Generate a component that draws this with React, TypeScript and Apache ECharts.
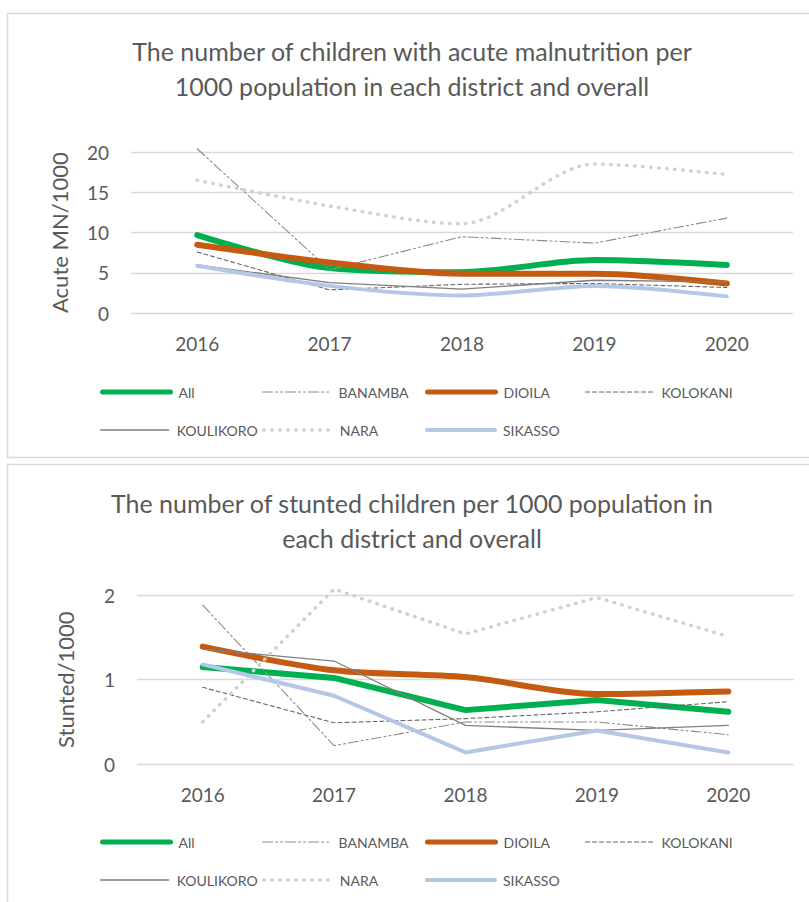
import React, { useEffect, useRef } from 'react';
import * as echarts from 'echarts';

const years = ['2016', '2017', '2018', '2019', '2020'];
const seriesNames = ['All', 'BANAMBA', 'DIOILA', 'KOLOKANI', 'KOULIKORO', 'NARA', 'SIKASSO'];

// Acute malnutrition per 1000
const acuteAll = [9.7, 5.6, 5.1, 6.6, 6.0];
const acuteBanamba = [20.4, 5.4, 9.5, 8.7, 11.8];
const acuteDioila = [8.5, 6.3, 4.9, 4.9, 3.7];
const acuteKolokani = [7.6, 2.9, 3.6, 3.7, 3.2];
const acuteKoulikoro = [6.0, 3.8, 3.0, 4.1, 3.9];
const acuteNara = [16.5, 13.3, 11.1, 18.5, 17.2];
const acuteSikasso = [5.9, 3.4, 2.2, 3.4, 2.1];

// Stunted per 1000
const stuntAll = [1.15, 1.02, 0.64, 0.76, 0.62];
const stuntBanamba = [1.88, 0.22, 0.5, 0.5, 0.35];
const stuntDioila = [1.39, 1.11, 1.03, 0.83, 0.86];
const stuntKolokani = [0.91, 0.49, 0.54, 0.62, 0.74];
const stuntKoulikoro = [1.36, 1.22, 0.46, 0.4, 0.46];
const stuntNara = [0.5, 2.07, 1.54, 1.97, 1.51];
const stuntSikasso = [1.18, 0.81, 0.14, 0.4, 0.14];

const acuteTicks = { min: 0, max: 20, interval: 5 };
const stuntTicks = { min: 0, max: 2, interval: 1 };

const title1 = ['The number of children with acute malnutrition per', '1000 population in each district and overall'];
const title2 = ['The number of stunted children per 1000 population in', 'each district and overall'];
const yName1 = 'Acute MN/1000';
const yName2 = 'Stunted/1000';

const FONT = 'Lato';
const TXT = '#595959';
const GRIDC = '#d9d9d9';

const styles: Record<string, any> = {
  All: { color: '#00B050', width: 6, type: 'solid', lw: 5 },
  BANAMBA: { color: '#8c8c8c', width: 1.1, type: [10, 3, 2, 3, 2, 3], lw: 1.2 },
  DIOILA: { color: '#C55A11', width: 6, type: 'solid', lw: 5 },
  KOLOKANI: { color: '#666666', width: 1.1, type: [4, 3], lw: 1.2 },
  KOULIKORO: { color: '#7f7f7f', width: 1.3, type: 'solid', lw: 1.3 },
  NARA: { color: '#d0d0d0', width: 3.5, type: [0.5, 7.5], lw: 3.5 },
  SIKASSO: { color: '#B4C7E7', width: 4, type: 'solid', lw: 4 },
};

export default function App() {
  const ref = useRef<HTMLDivElement>(null);
  useEffect(() => {
    const chart = echarts.init(ref.current!, null, { renderer: 'svg' });
    const acute = [acuteAll, acuteBanamba, acuteDioila, acuteKolokani, acuteKoulikoro, acuteNara, acuteSikasso];
    const stunt = [stuntAll, stuntBanamba, stuntDioila, stuntKolokani, stuntKoulikoro, stuntNara, stuntSikasso];

    const mkSeries = (name: string, data: number[], idx: number, smooth: number | boolean) => {
      const s = styles[name];
      return {
        name,
        type: 'line',
        xAxisIndex: idx,
        yAxisIndex: idx,
        data,
        symbol: 'none',
        showSymbol: false,
        smooth,
        clip: false,
        lineStyle: { color: s.color, width: s.width, type: s.type, cap: 'round', join: 'round' },
        itemStyle: { color: s.color },
      };
    };
    const stuntSmooth: Record<string, number | boolean> = { DIOILA: 0.3 };
    const topSmooth: Record<string, number | boolean> = { BANAMBA: false, KOLOKANI: false, KOULIKORO: false };
    const series: any[] = [];
    seriesNames.forEach((n, i) => series.push(mkSeries(n, acute[i], 0, topSmooth[n] ?? 0.3)));
    seriesNames.forEach((n, i) => series.push(mkSeries(n, stunt[i], 1, stuntSmooth[n] ?? false)));

    const colX = [100, 262, 425, 585];
    const legends: any[] = [];
    [[393, 431], [843, 881]].forEach((rows) => {
      seriesNames.forEach((n, i) => {
        const s = styles[n];
        const row = Math.floor(i / 4);
        const col = i % 4;
        legends.push({
          data: [n],
          left: colX[col],
          top: rows[row] - 8,
          padding: 0,
          itemWidth: 68,
          itemHeight: 16,
          selectedMode: false,
          itemStyle: { opacity: 0, color: 'transparent', borderWidth: 0 },
          lineStyle: { color: s.color, width: s.lw, type: s.type, cap: 'round', opacity: 1 },
          textStyle: { color: TXT, fontFamily: FONT, fontSize: 14, padding: [0, 0, 0, 3] },
        });
      });
    });

    const axisCommon = (gi: number, ticks: any, name: string) => ({
      type: 'value',
      gridIndex: gi,
      ...ticks,
      name,
      nameLocation: 'middle',
      nameRotate: 90,
      nameGap: 61,
      nameTextStyle: { color: TXT, fontFamily: FONT, fontSize: 22 },
      axisLine: { show: false },
      axisTick: { show: false },
      axisLabel: { color: TXT, fontFamily: FONT, fontSize: 19, margin: 22 },
      splitLine: { lineStyle: { color: GRIDC, width: 1.3 } },
    });
    const xCommon = (gi: number) => ({
      type: 'category',
      gridIndex: gi,
      data: years,
      boundaryGap: true,
      axisLine: { show: false },
      axisTick: { show: false },
      axisLabel: { color: TXT, fontFamily: FONT, fontSize: 19, margin: 21 },
    });

    const titleText = (lines: string[], y0: number) =>
      lines.map((t, i) => ({
        type: 'text',
        x: 412,
        y: y0 + i * 35,
        style: { text: t, fill: TXT, font: `25px ${FONT}`, textAlign: 'center', textVerticalAlign: 'middle' },
      }));

    chart.setOption({
      animation: false,
      backgroundColor: '#ffffff',
      grid: [
        { left: 131, right: 16, top: 152, height: 161.3 },
        { left: 137, right: 15, top: 595, height: 169.3 },
      ],
      xAxis: [xCommon(0), xCommon(1)],
      yAxis: [axisCommon(0, acuteTicks, yName1), axisCommon(1, stuntTicks, yName2)],
      legend: legends,
      graphic: [
        { type: 'rect', shape: { x: 7.5, y: 13.5, width: 830, height: 444 }, style: { fill: 'none', stroke: GRIDC, lineWidth: 1.5 } },
        { type: 'rect', shape: { x: 7.5, y: 464.5, width: 830, height: 460 }, style: { fill: 'none', stroke: GRIDC, lineWidth: 1.5 } },
        ...titleText(title1, 51),
        ...titleText(title2, 503),
      ],
      series,
    });
    return () => chart.dispose();
  }, []);
  return <div ref={ref} style={{ position: 'absolute', left: 0, top: 0, width: 809, height: 902 }} />;
}
